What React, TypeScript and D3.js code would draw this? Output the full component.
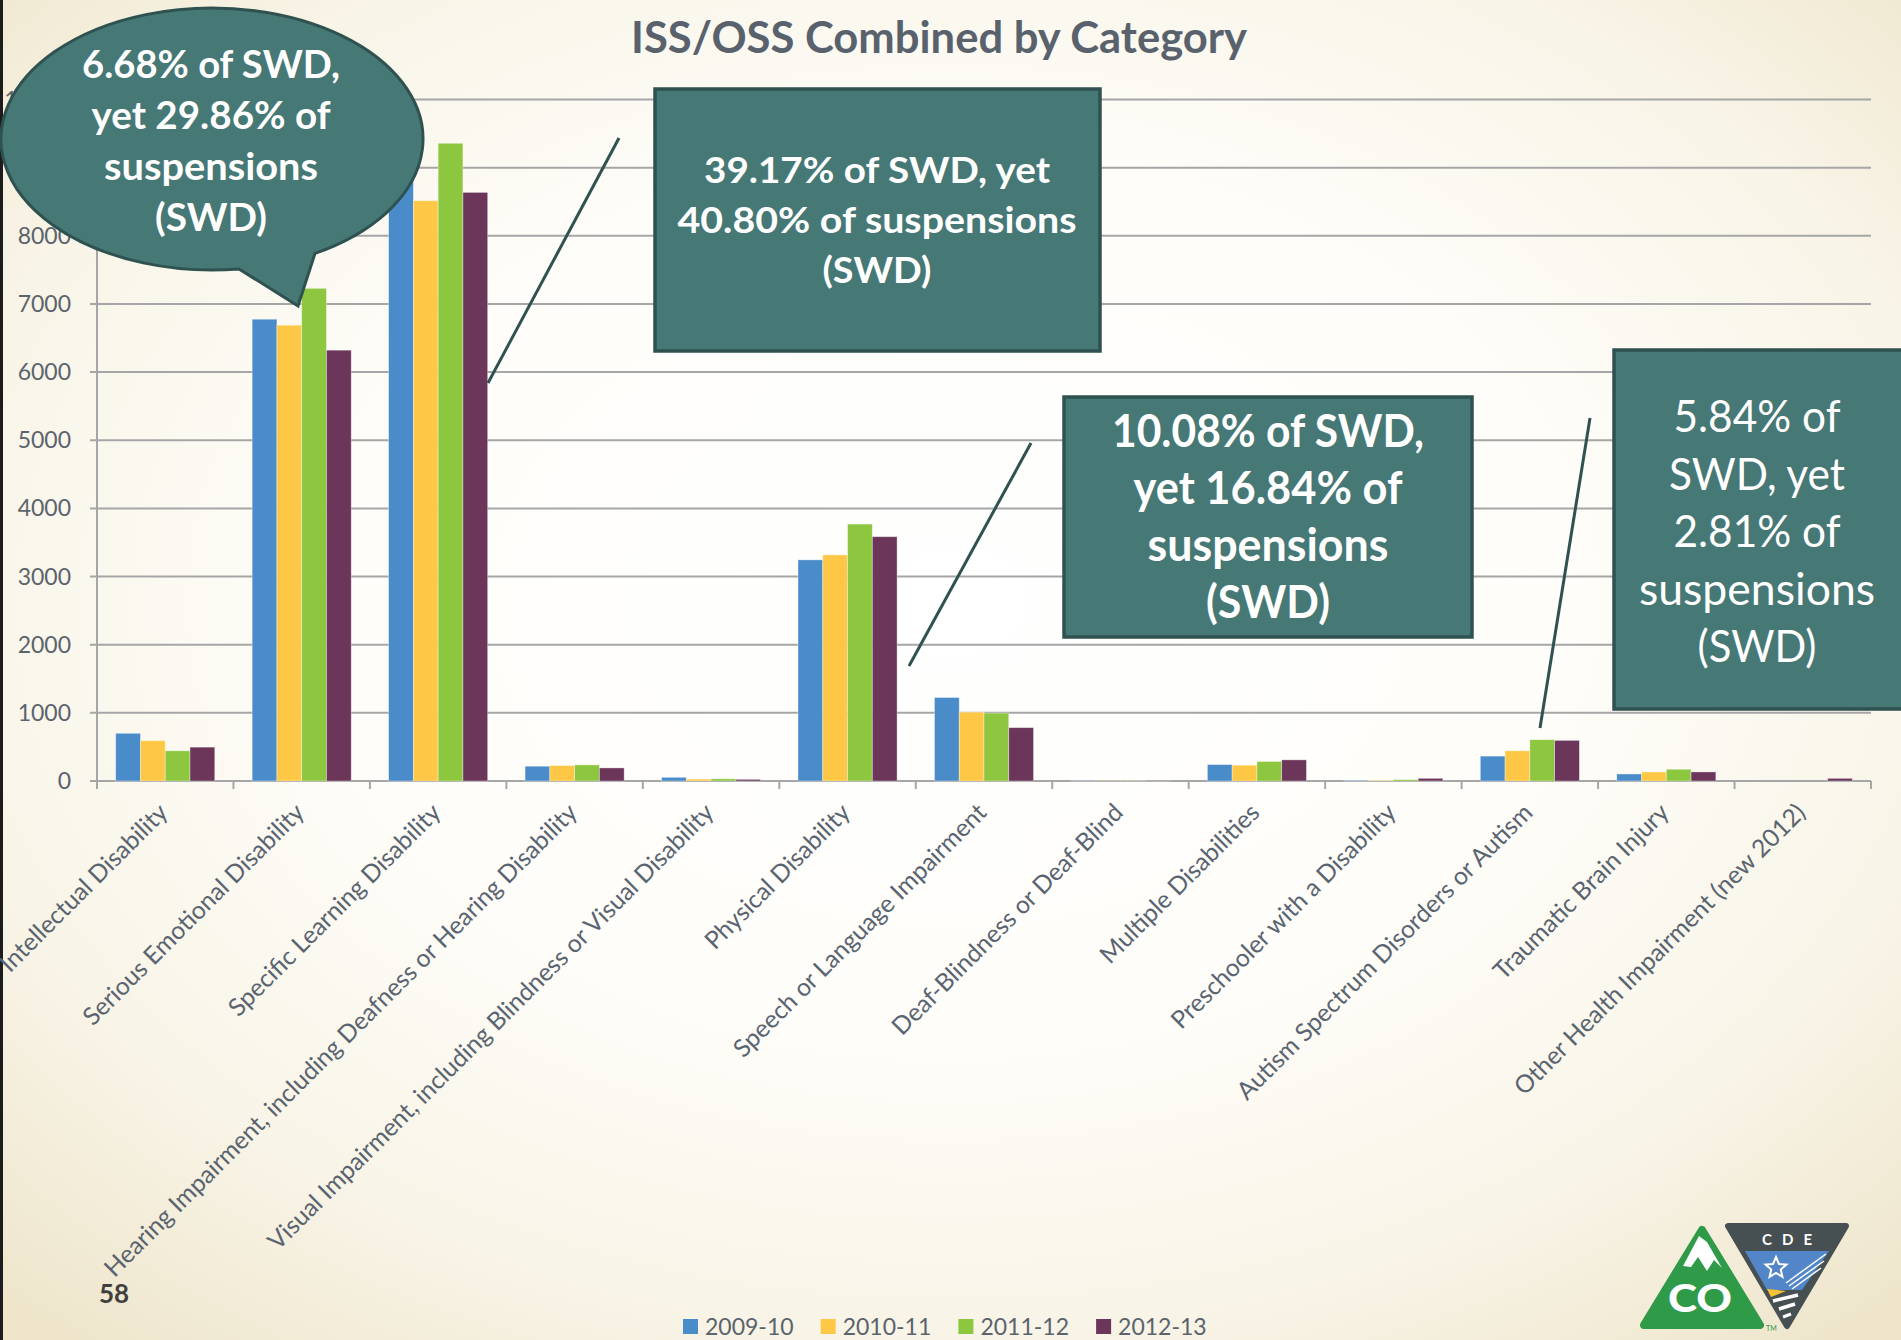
import React from "react";
import * as d3 from "d3";

const categories = [
  "Intellectual Disability",
  "Serious Emotional Disability",
  "Specific Learning Disability",
  "Hearing Impairment, including Deafness or Hearing Disability",
  "Visual Impairment, including Blindness or Visual Disability",
  "Physical Disability",
  "Speech or Language Impairment",
  "Deaf-Blindness or Deaf-Blind",
  "Multiple Disabilities",
  "Preschooler with a Disability",
  "Autism Spectrum Disorders or Autism",
  "Traumatic Brain Injury",
  "Other Health Impairment (new 2012)",
];
const seriesNames = ["2009-10", "2010-11", "2011-12", "2012-13"];
const values2009 = [700, 6776, 9150, 217, 54, 3245, 1225, 3, 241, 10, 365, 103, 0];
const values2010 = [591, 6688, 8515, 227, 28, 3318, 1010, 2, 232, 10, 443, 133, 0];
const values2011 = [443, 7229, 9358, 236, 32, 3770, 997, 4, 286, 20, 606, 172, 0];
const values2012 = [497, 6322, 8637, 192, 24, 3585, 783, 3, 310, 39, 596, 133, 39];
const yTicks = [0, 1000, 2000, 3000, 4000, 5000, 6000, 7000, 8000, 9000, 10000];

const titleText = "ISS/OSS Combined by Category";
const bubbleLines = ["6.68% of SWD,", "yet 29.86% of", "suspensions", "(SWD)"];
const box1Lines = ["39.17% of SWD, yet", "40.80% of suspensions", "(SWD)"];
const box2Lines = ["10.08% of SWD,", "yet 16.84% of", "suspensions", "(SWD)"];
const box3Lines = ["5.84% of", "SWD, yet", "2.81% of", "suspensions", "(SWD)"];
const pageNumber = "58";

const seriesColors = ["#4a8bca", "#fec846", "#8dc63f", "#6b365a"];
const TEAL = "#467876";
const TEAL_DARK = "#2f5250";
const FONT = "Lato, 'Open Sans', sans-serif";

function CalloutText({ lines, cx, y0, dy, size, weight, widths }) {
  return (
    <g>
      {lines.map((t, i) => (
        <text
          key={i}
          x={cx}
          y={y0 + i * dy}
          textAnchor="middle"
          fill="#ffffff"
          fontFamily={FONT}
          fontSize={size}
          fontWeight={weight}
          textLength={widths[i]}
          lengthAdjust="spacingAndGlyphs"
        >
          {t}
        </text>
      ))}
    </g>
  );
}

export default function App() {
  const W = 1901;
  const H = 1340;
  const plotLeft = 97;
  const plotRight = 1871;
  const y = d3.scaleLinear().domain([0, 10000]).range([781, 99.5]);
  const x0 = d3
    .scaleBand()
    .domain(categories)
    .range([plotLeft, plotRight])
    .paddingInner(0.274)
    .paddingOuter(0.137);
  const x1 = d3.scaleBand().domain(seriesNames).range([0, x0.bandwidth()]);
  const allSeries = [values2009, values2010, values2011, values2012];
  const step = x0.step();

  // bubble geometry
  const bcx = 212, bcy = 139, brx = 211, bry = 131;
  const tA = 239, tB = 315;
  const yA = bcy + bry * Math.sqrt(1 - ((tA - bcx) / brx) ** 2);
  const yB = bcy + bry * Math.sqrt(1 - ((tB - bcx) / brx) ** 2);
  const bubblePath = `M ${tA} ${yA} A ${brx} ${bry} 0 1 1 ${tB} ${yB} L 298 306 Z`;

  const star = d3.range(10).map((i) => {
    const a = -Math.PI / 2 + (i * Math.PI) / 5;
    const r = i % 2 === 0 ? 11 : 5;
    return [1776 + r * Math.cos(a), 1268 + r * Math.sin(a)];
  });

  return (
    <svg
      width={W}
      height={H}
      viewBox={`0 0 ${W} ${H}`}
      style={{ position: "absolute", left: 0, top: 0 }}
    >
      <defs>
        <radialGradient id="bg" cx="50%" cy="45%" r="72%">
          <stop offset="0%" stopColor="#ffffff" />
          <stop offset="45%" stopColor="#fefdf9" />
          <stop offset="75%" stopColor="#f8f4e7" />
          <stop offset="100%" stopColor="#eee5cb" />
        </radialGradient>
      </defs>
      <rect x={0} y={0} width={W} height={H} fill="url(#bg)" />
      <rect x={0} y={0} width={3} height={H} fill="#1c1c1c" />

      {/* title */}
      <text
        x={939}
        y={53}
        textAnchor="middle"
        fill="#59626c"
        fontFamily={FONT}
        fontWeight={700}
        fontSize={43}
        textLength={616}
        lengthAdjust="spacingAndGlyphs"
      >
        {titleText}
      </text>

      {/* gridlines */}
      {yTicks.map((t) => (
        <line
          key={t}
          x1={plotLeft - 7}
          x2={plotRight}
          y1={y(t)}
          y2={y(t)}
          stroke="#a6a6a6"
          strokeWidth={2}
        />
      ))}
      {yTicks.map((t) => (
        <text
          key={"l" + t}
          x={71}
          y={y(t) + 8}
          textAnchor="end"
          fill="#5b636d"
          fontFamily={FONT}
          fontSize={23}
        >
          {t}
        </text>
      ))}
      <line x1={plotLeft} x2={plotLeft} y1={y(10000)} y2={y(0) + 8} stroke="#a6a6a6" strokeWidth={2} />
      {d3.range(categories.length + 1).map((i) => (
        <line
          key={"t" + i}
          x1={plotLeft + i * step}
          x2={plotLeft + i * step}
          y1={y(0)}
          y2={y(0) + 8}
          stroke="#a6a6a6"
          strokeWidth={2}
        />
      ))}

      {/* bars */}
      {categories.map((c, ci) => (
        <g key={c} transform={`translate(${x0(c)},0)`}>
          {allSeries.map((s, si) => (
            <rect
              key={si}
              x={x1(seriesNames[si])}
              y={y(s[ci])}
              width={x1.bandwidth()}
              height={y(0) - y(s[ci])}
              fill={seriesColors[si]}
              stroke="rgba(255,255,255,0.45)"
              strokeWidth={s[ci] > 0 ? 0.8 : 0}
            />
          ))}
        </g>
      ))}

      {/* category labels */}
      {categories.map((c) => {
        const cx = x0(c) + x0.bandwidth() / 2;
        return (
          <text
            key={"c" + c}
            transform={`translate(${cx - 2},${808}) rotate(-45)`}
            textAnchor="end"
            dy="0.35em"
            fill="#5a6470"
            fontFamily={FONT}
            fontSize={24.6}
          >
            {c}
          </text>
        );
      })}

      {/* connector lines */}
      <line x1={619} y1={138} x2={488} y2={383} stroke={TEAL_DARK} strokeWidth={3} />
      <line x1={1031} y1={443} x2={909} y2={666} stroke={TEAL_DARK} strokeWidth={3} />
      <line x1={1590} y1={418} x2={1540} y2={728} stroke={TEAL_DARK} strokeWidth={3} />

      {/* speech bubble */}
      <path d={bubblePath} fill={TEAL} stroke={TEAL_DARK} strokeWidth={3} />
      <CalloutText
        lines={bubbleLines}
        cx={211}
        y0={78}
        dy={51}
        size={38}
        weight={700}
        widths={[258, 239, 214, 112]}
      />

      {/* box 1 */}
      <rect x={655} y={89} width={445} height={262} fill={TEAL} stroke={TEAL_DARK} strokeWidth={3.5} />
      <CalloutText
        lines={box1Lines}
        cx={877}
        y0={183}
        dy={50}
        size={37}
        weight={700}
        widths={[346, 399, 109]}
      />

      {/* box 2 */}
      <rect x={1064} y={397} width={408} height={240} fill={TEAL} stroke={TEAL_DARK} strokeWidth={3.5} />
      <CalloutText
        lines={box2Lines}
        cx={1268}
        y0={447}
        dy={57}
        size={46}
        weight={700}
        widths={[312, 269, 241, 124]}
      />

      {/* box 3 */}
      <rect x={1614} y={350} width={300} height={359} fill={TEAL} stroke={TEAL_DARK} strokeWidth={3.5} />
      <CalloutText
        lines={box3Lines}
        cx={1757}
        y0={432}
        dy={57.5}
        size={44}
        weight={400}
        widths={[167, 176, 167, 236, 119]}
      />

      {/* page number */}
      <text x={99} y={1303} fill="#404040" fontFamily={FONT} fontWeight={700} fontSize={26}>
        {pageNumber}
      </text>

      {/* legend */}
      {seriesNames.map((n, i) => {
        const lx = 683 + i * 137.7;
        return (
          <g key={"lg" + n}>
            <rect x={lx} y={1319} width={15} height={15} fill={seriesColors[i]} />
            <text x={lx + 22} y={1335} fill="#5b636d" fontFamily={FONT} fontSize={23}>
              {n}
            </text>
          </g>
        );
      })}

      {/* logo */}
      <g>
        <path
          d="M1702 1230 L1760 1325 L1644 1325 Z"
          fill="#2f9a47"
          stroke="#2f9a47"
          strokeWidth={8}
          strokeLinejoin="round"
        />
        <path
          d="M1683 1266 L1699 1236 L1707 1242 L1722 1268 L1714 1260 L1707 1271 L1698 1257 L1691 1267 Z"
          fill="#ffffff"
        />
        <text
          x={1700}
          y={1312}
          textAnchor="middle"
          fill="#ffffff"
          fontFamily={FONT}
          fontWeight={900}
          fontSize={37}
          textLength={64}
          lengthAdjust="spacingAndGlyphs"
        >
          CO
        </text>
        <text x={1766} y={1331} fill="#2f9a47" fontFamily={FONT} fontSize={7}>
          TM
        </text>
        <path
          d="M1728 1226 L1846 1226 L1787 1326 Z"
          fill="#465052"
          stroke="#465052"
          strokeWidth={6}
          strokeLinejoin="round"
        />
        <text
          x={1787}
          y={1245}
          textAnchor="middle"
          fill="#ffffff"
          fontFamily={FONT}
          fontWeight={700}
          fontSize={15}
          textLength={50}
          lengthAdjust="spacing"
        >
          CDE
        </text>
        <path d="M1745 1251 L1829 1251 L1802 1290 L1767 1290 Z" fill="#5286c8" />
        <path d={"M" + star.map((p) => p.join(" ")).join(" L") + " Z"} fill="#5286c8" stroke="#ffffff" strokeWidth={2} />
        <line x1={1786} y1={1283} x2={1826} y2={1254} stroke="#ffffff" strokeWidth={1.5} />
        <line x1={1789} y1={1286} x2={1824} y2={1261} stroke="#ffffff" strokeWidth={1.5} />
        <line x1={1792} y1={1289} x2={1821} y2={1268} stroke="#ffffff" strokeWidth={1.5} />
        <path d="M1767 1289 L1786 1291 L1771 1297 Z" fill="#f7c234" />
        <line x1={1773} y1={1301} x2={1798} y2={1295} stroke="#ffffff" strokeWidth={3.5} />
        <line x1={1779} y1={1309} x2={1795} y2={1304} stroke="#ffffff" strokeWidth={3.5} />
        <line x1={1783} y1={1317} x2={1791} y2={1314} stroke="#ffffff" strokeWidth={3} />
      </g>
    </svg>
  );
}
